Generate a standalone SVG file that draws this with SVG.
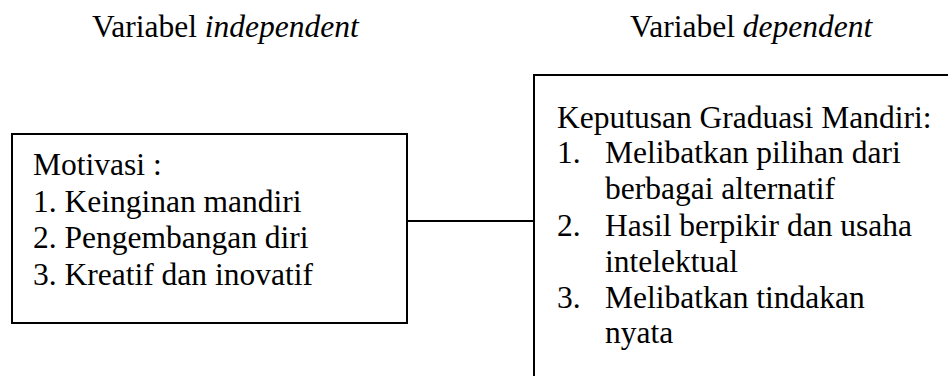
<svg xmlns="http://www.w3.org/2000/svg" width="948" height="376" viewBox="0 0 948 376">
<style>
.box{fill:#fff;stroke:#000;stroke-width:2}
.line{stroke:#000;stroke-width:2;fill:none}
</style>
<rect width="948" height="376" fill="#fff"/>
<g id="title-independent" font-family="Liberation Serif" font-size="31.5"><text x="92" y="37">Variabel <tspan font-style="italic">independent</tspan></text></g>
<g id="title-dependent" font-family="Liberation Serif" font-size="31.5"><text x="630" y="37">Variabel <tspan font-style="italic">dependent</tspan></text></g>
<g id="connectors"><line class="line" x1="407" y1="221" x2="534" y2="221"/></g>
<g id="node-motivasi" font-family="Liberation Serif" font-size="31.5">
<rect class="box" x="12" y="134" width="395" height="189"/>
<text x="33" y="175">Motivasi :</text>
<text x="33" y="212">1. Keinginan mandiri</text>
<text x="33" y="248">2. Pengembangan diri</text>
<text x="33" y="285">3. Kreatif dan inovatif</text>
</g>
<g id="node-keputusan" font-family="Liberation Serif" font-size="31.5">
<rect class="box" x="534" y="75" width="430" height="320"/>
<text x="557" y="128">Keputusan Graduasi Mandiri:</text>
<text x="557" y="163">1.</text><text x="605" y="163">Melibatkan pilihan dari</text>
<text x="605" y="199">berbagai alternatif</text>
<text x="557" y="236">2.</text><text x="605" y="236">Hasil berpikir dan usaha</text>
<text x="605" y="272">intelektual</text>
<text x="557" y="308">3.</text><text x="605" y="308">Melibatkan tindakan</text>
<text x="605" y="343">nyata</text>
</g>
</svg>
